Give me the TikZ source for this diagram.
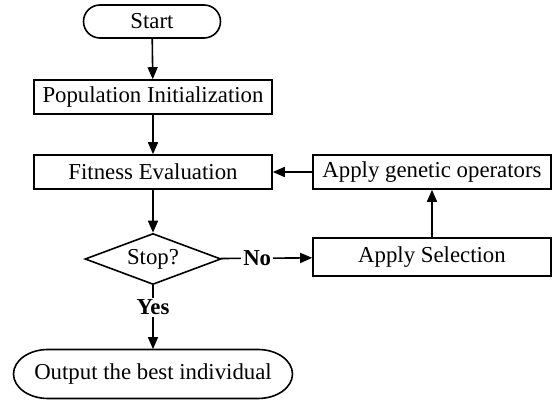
\documentclass[tikz,border=0pt]{standalone}
\usepackage{fontspec}
\setmainfont{Liberation Serif}
\usetikzlibrary{shapes.geometric,shapes.misc,arrows.meta}

\begin{document}
\begin{tikzpicture}[x=0.5pt,y=-0.5pt,font=\fontsize{11.4}{13}\selectfont,
    box/.style={draw, line width=0.8pt, minimum width=119pt, minimum height=17pt, inner sep=0pt},
    term/.style={draw, line width=0.8pt, rounded rectangle, inner sep=0pt},
    cond/.style={draw, line width=0.8pt, diamond, aspect=2.7, minimum width=68pt, minimum height=25.5pt, inner sep=0pt},
    arr/.style={line width=0.8pt, -{Triangle[length=6pt,width=5pt]}},
    lbl/.style={fill=white, inner sep=1pt, font=\fontsize{11.4}{13}\selectfont\bfseries}]
    \useasboundingbox (0,0) rectangle (554,401);
    \node[term, minimum width=68.5pt, minimum height=16.5pt] (start) at (152,21.5) {Start};
    \node[box] (init) at (153,97) {Population Initialization};
    \node[box] (fit) at (153,172) {Fitness Evaluation};
    \node[box] (ops) at (432,172) {Apply genetic operators};
    \node[cond] (stop) at (153,259) {Stop?};
    \node[box, minimum height=19pt] (sel) at (432,257) {Apply Selection};
    % output: flat top and bottom, elliptical ends
    \node[inner sep=0pt, minimum height=24.5pt] (out) at (153,374) {Output the best individual};
    \draw[line width=0.8pt] (out.center) ++(105,-24.5) arc[start angle=90, end angle=-90, x radius=17.25pt, y radius=12.25pt]
        -- ++(-210,0) arc[start angle=270, end angle=90, x radius=17.25pt, y radius=12.25pt] -- cycle;
    \draw[arr] (start) -- (init);
    \draw[arr] (init) -- (fit);
    \draw[arr] (fit) -- (stop);
    \draw[arr] (stop) -- node[lbl, pos=0.4] {No} (sel);
    \draw[arr] (sel) -- (ops);
    \draw[arr] (ops) -- (fit);
    \draw[arr] (stop) -- node[lbl, pos=0.35] {Yes} (out);
\end{tikzpicture}
\end{document}
